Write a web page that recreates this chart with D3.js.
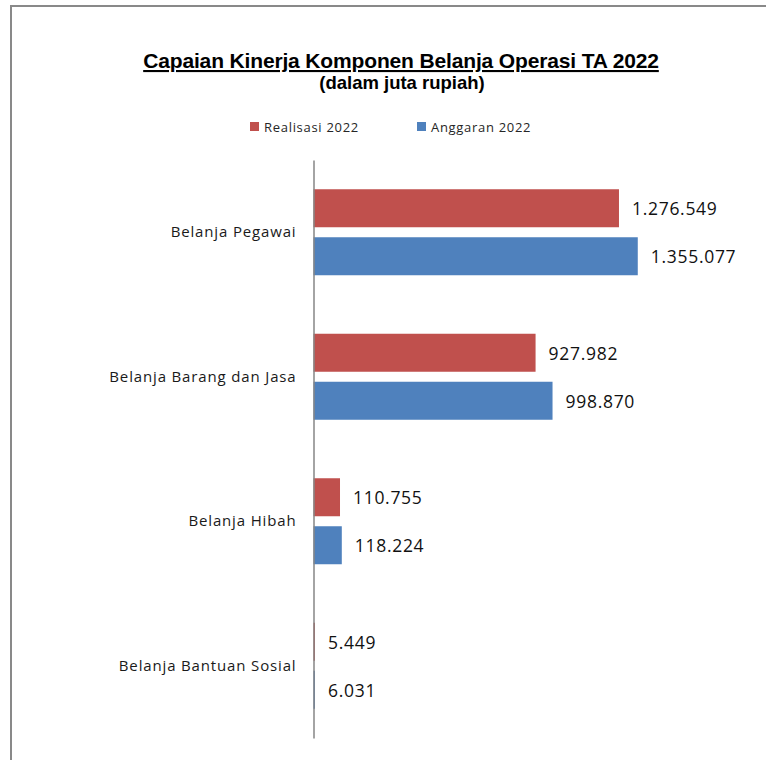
<!DOCTYPE html>
<html>
<head>
<meta charset="utf-8">
<script src="https://cdn.jsdelivr.net/npm/d3@7"></script>
<style>
  html, body { margin: 0; padding: 0; background: #fff; }
  svg { display: block; }
</style>
</head>
<body>
<svg id="chart" width="766" height="760"></svg>
<script>
const categories = ["Belanja Pegawai", "Belanja Barang dan Jasa", "Belanja Hibah", "Belanja Bantuan Sosial"];
const seriesNames = ["Realisasi 2022", "Anggaran 2022"];
const realisasi = [1276549, 927982, 110755, 5449];
const anggaran = [1355077, 998870, 118224, 6031];
const valueLabelsRealisasi = ["1.276.549", "927.982", "110.755", "5.449"];
const valueLabelsAnggaran = ["1.355.077", "998.870", "118.224", "6.031"];
const colors = ["#C0504D", "#4F81BD"];

const svg = d3.select("#chart");

// chart frame (cut off at right/bottom like the reference)
svg.append("path")
  .attr("d", "M11,770 L11,6 L780,6")
  .attr("fill", "none").attr("stroke", "#898989").attr("stroke-width", 2);

// Title
svg.append("text")
  .attr("x", 401).attr("y", 68)
  .attr("text-anchor", "middle")
  .attr("font-family", "Liberation Sans, Arial, sans-serif")
  .attr("font-weight", "bold").attr("font-size", 21)
  .attr("letter-spacing", -0.15)
  .attr("fill", "#000")
  .attr("text-decoration", "underline")
  .text("Capaian Kinerja Komponen Belanja Operasi TA 2022");

svg.append("text")
  .attr("x", 402).attr("y", 89)
  .attr("text-anchor", "middle")
  .attr("font-family", "Liberation Sans, Arial, sans-serif")
  .attr("font-weight", "bold").attr("font-size", 18.5)
  .attr("fill", "#000")
  .text("(dalam juta rupiah)");

// Legend
const legendX = [250, 417];
seriesNames.forEach((name, i) => {
  svg.append("rect").attr("x", legendX[i]).attr("y", 122).attr("width", 9).attr("height", 9).attr("fill", colors[i]);
  svg.append("text").attr("x", legendX[i] + 14).attr("y", 131.5)
    .attr("font-family", "Open Sans, sans-serif").attr("font-size", 13)
    .attr("letter-spacing", 0.7)
    .attr("fill", "#262626").text(name);
});

// Scales
const x = d3.scaleLinear().domain([0, 1400000]).range([313.5, 313.5 + 1.4 * 239.3]);
const y = d3.scaleBand().domain(categories).range([160, 738]);

const data = categories.map((c, i) => ({
  cat: c,
  vals: [
    { s: seriesNames[0], v: realisasi[i], label: valueLabelsRealisasi[i] },
    { s: seriesNames[1], v: anggaran[i], label: valueLabelsAnggaran[i] }
  ]
}));

const groups = svg.append("g").selectAll("g").data(data).join("g")
  .attr("transform", d => `translate(0,${y(d.cat)})`);

const bh = 38, gap = 10;
function barY(i) { return y.bandwidth() / 2 + (i === 0 ? -(gap / 2 + bh) : gap / 2); }

groups.selectAll("rect").data(d => d.vals).join("rect")
  .attr("x", x(0))
  .attr("y", (d, i) => barY(i))
  .attr("width", d => Math.max(1.5, x(d.v) - x(0)))
  .attr("height", bh)
  .attr("fill", (d, i) => colors[i]);

groups.selectAll("text.val").data(d => d.vals).join("text")
  .attr("class", "val")
  .attr("x", d => Math.max(x(d.v), x(0) + 1.5) + 13)
  .attr("y", (d, i) => barY(i) + bh / 2 + 7)
  .attr("font-family", "Open Sans, sans-serif")
  .attr("font-size", 17.5)
  .attr("letter-spacing", 0.7)
  .attr("fill", "#111")
  .text(d => d.label);

// Category axis
const axis = d3.axisLeft(y).tickSize(0).tickPadding(17);
const ag = svg.append("g").attr("transform", `translate(${x(0)},0)`).call(axis);
ag.select(".domain").attr("stroke", "#868686").attr("stroke-width", 1.5);
ag.selectAll(".tick text")
  .attr("font-family", "Open Sans, sans-serif")
  .attr("font-size", 15)
  .attr("letter-spacing", 0.85)
  .attr("fill", "#1a1a1a");
</script>
</body>
</html>
